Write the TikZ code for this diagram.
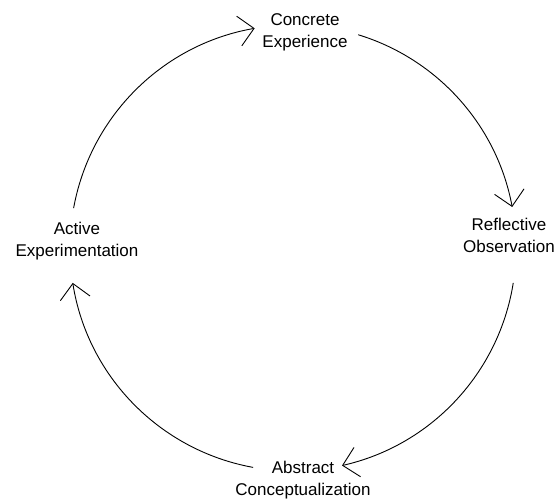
\documentclass[tikz,border=0pt]{standalone}
\usepackage{fontspec}
\setmainfont{Liberation Sans}
\usetikzlibrary{arrows.meta}
\tikzset{
  lbl/.style={align=center, font=\fontsize{17}{22}\selectfont, inner sep=0pt, anchor=base},
  cyc/.style={line width=0.9pt, -{Straight Barb[length=15pt,width=30pt,line width=0.9pt]}}
}
\begin{document}
\begin{tikzpicture}[x=1pt,y=-1pt]
\useasboundingbox (0,0) rectangle (560,503);
\coordinate (c) at (293,248);
\node[lbl] (ce) at (305,48) {Concrete\\Experience};
\node[lbl] (ro) at (509,252) {Reflective\\Observation};
\node[lbl] (ac) at (303,495) {Abstract\\Conceptualization};
\node[lbl] (ae) at (77,256) {Active\\Experimentation};
\coordinate (s1) at ([shift={(190.3:223)}]c);
\coordinate (s2) at ([shift={(287:223)}]c);
\coordinate (s3) at ([shift={(9:223)}]c);
\coordinate (s4) at ([shift={(100.3:223)}]c);
\draw[cyc] (s1) arc[start angle=190.3, end angle=260.1, radius=223];
\draw[cyc] (s2) arc[start angle=287, end angle=349.4, radius=223];
\draw[cyc] (s3) arc[start angle=9, end angle=77.3, radius=223];
\draw[cyc] (s4) arc[start angle=100.3, end angle=171, radius=223];
\end{tikzpicture}
\end{document}
